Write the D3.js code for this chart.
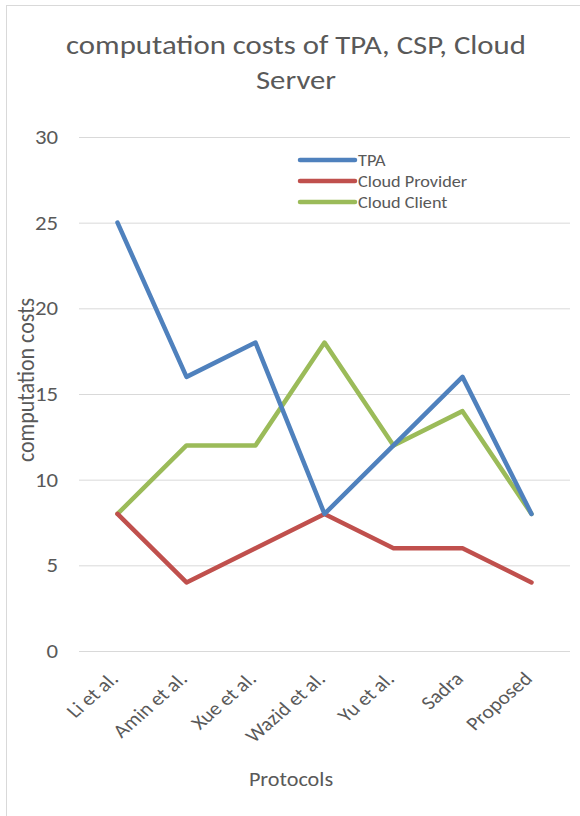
<!DOCTYPE html>
<html>
<head>
<meta charset="utf-8">
<script src="https://cdn.jsdelivr.net/npm/d3@7"></script>
<style>
  body { margin: 0; background: #fff; }
  svg { font-family: Calibri, Carlito, "Open Sans", sans-serif; }
</style>
</head>
<body>
<div id="app"></div>
<script>
// chart data
const protocols = ['Li et al.', 'Amin et al.', 'Xue et al.', 'Wazid et al.', 'Yu et al.', 'Sadra', 'Proposed'];
const seriesNames = ['TPA', 'Cloud Provider', 'Cloud Client'];
const tpa = [25, 16, 18, 8, 12, 16, 8];
const cloudProvider = [8, 4, 6, 8, 6, 6, 4];
const cloudClient = [8, 12, 12, 18, 12, 14, 8];
const yTicks = [0, 5, 10, 15, 20, 25, 30];
const colors = ['#4F81BD', '#C0504D', '#9BBB59'];

(() => {
  const WIDTH = 580, HEIGHT = 816;
  const textColor = '#595959';
  const SX = 1.14; // text in the original is a bit wider than Calibri

  const svg = d3.select('#app').append('svg')
    .attr('width', WIDTH).attr('height', HEIGHT);

  // chart frame
  svg.append('rect')
    .attr('x', 6.5).attr('y', 5.5)
    .attr('width', 600).attr('height', 830)
    .attr('fill', 'none').attr('stroke', '#d9d9d9');

  const x = d3.scaleBand().domain(protocols).range([83, 566]);
  const y = d3.scaleLinear().domain([0, 30]).range([651, 137]);
  const cx = d => x(d) + x.bandwidth() / 2;

  // gridlines
  svg.append('g').selectAll('line').data(yTicks).join('line')
    .attr('x1', 79).attr('x2', 570)
    .attr('y1', d => y(d) + 0.5).attr('y2', d => y(d) + 0.5)
    .attr('stroke', '#d9d9d9').attr('stroke-width', 1);

  // y tick labels
  svg.append('g').selectAll('text').data(yTicks).join('text')
    .attr('transform', d => `translate(58,${y(d)}) scale(${SX},1)`)
    .attr('dy', '0.35em').attr('text-anchor', 'end')
    .attr('font-size', 20).attr('fill', textColor)
    .text(d => d);

  // x tick labels
  svg.append('g').selectAll('text').data(protocols).join('text')
    .attr('transform', d => `translate(${cx(d) + 2},680) scale(${SX},1) rotate(-45)`)
    .attr('text-anchor', 'end')
    .attr('font-size', 19).attr('fill', textColor)
    .text(d => d);

  // lines
  const allSeries = [tpa, cloudProvider, cloudClient];
  const line = d3.line()
    .x((d, i) => cx(protocols[i]))
    .y(d => y(d));

  // draw in reverse so TPA sits on top
  svg.append('g').selectAll('path').data(allSeries.map((s, i) => ({ s, i })).reverse()).join('path')
    .attr('d', d => line(d.s))
    .attr('fill', 'none')
    .attr('stroke', d => colors[d.i])
    .attr('stroke-width', 4.5)
    .attr('stroke-linejoin', 'round')
    .attr('stroke-linecap', 'round');

  // title
  svg.append('text')
    .attr('transform', `translate(296,54) scale(${SX},1)`)
    .attr('text-anchor', 'middle')
    .attr('font-size', 27).attr('fill', textColor)
    .text('computation costs of TPA, CSP, Cloud');
  svg.append('text')
    .attr('transform', `translate(296,89) scale(${SX},1)`)
    .attr('text-anchor', 'middle')
    .attr('font-size', 27).attr('fill', textColor)
    .text('Server');

  // axis titles
  svg.append('text')
    .attr('transform', `translate(34,380) scale(${SX},1) rotate(-90)`)
    .attr('text-anchor', 'middle')
    .attr('font-size', 22).attr('fill', textColor)
    .text('computation costs');

  svg.append('text')
    .attr('transform', `translate(291,786) scale(${SX},1)`)
    .attr('text-anchor', 'middle')
    .attr('font-size', 19.5).attr('fill', textColor)
    .text('Protocols');

  // legend
  const legend = svg.append('g').selectAll('g').data(seriesNames).join('g')
    .attr('transform', (d, i) => `translate(300,${160 + i * 21})`);
  legend.append('line')
    .attr('x1', 0).attr('x2', 55)
    .attr('stroke', (d, i) => colors[i])
    .attr('stroke-width', 4.5).attr('stroke-linecap', 'round');
  legend.append('text')
    .attr('transform', `translate(58,0) scale(${SX},1)`)
    .attr('dy', '0.35em')
    .attr('font-size', 16).attr('fill', textColor)
    .text(d => d);
})();
</script>
</body>
</html>
